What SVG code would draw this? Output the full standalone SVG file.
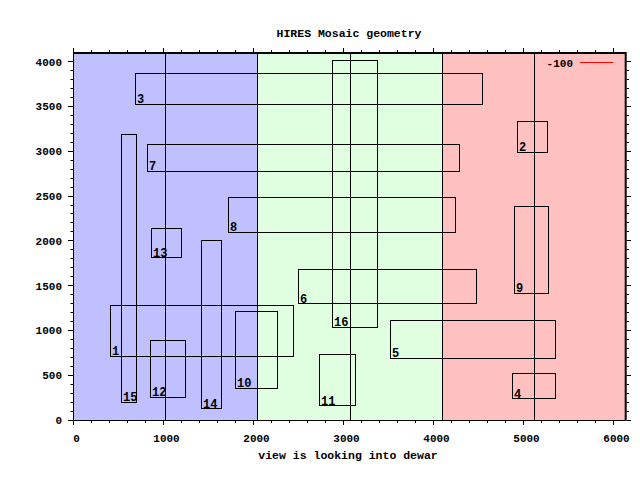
<svg xmlns="http://www.w3.org/2000/svg" width="640" height="480" viewBox="0 0 640 480">
<style>
text{font-family:"Liberation Mono","DejaVu Sans Mono",monospace;font-weight:bold;fill:#000}
.t{font-size:11.5px}
.tk{font-size:11px}
.lb{font-size:12px}
.box{fill:none;stroke:#000;stroke-width:1}
.ln{stroke:#000;stroke-width:1;fill:none}
</style>
<rect width="640" height="480" fill="#fff"/>
<g id="bands">
<rect x="73.5" y="53" width="184" height="367.5" fill="#c0c0ff"/>
<rect x="257.5" y="53" width="185" height="367.5" fill="#e0ffe0"/>
<rect x="442.5" y="53" width="183" height="367.5" fill="#ffc0c0"/>
<path class="ln" d="M257.5 53V420.5M442.5 53V420.5"/>
</g>
<g id="columns">
<path class="ln" d="M165.5 53V420.5M350.5 53V420.5M534.5 53V420.5"/>
</g>
<g id="b1"><rect class="box" x="110.5" y="305.5" width="183" height="51"/><text class="lb" x="112" y="355">1</text></g>
<g id="b2"><rect class="box" x="517.5" y="121.5" width="30" height="31"/><text class="lb" x="519" y="151">2</text></g>
<g id="b3"><rect class="box" x="135.5" y="73.5" width="347" height="31"/><text class="lb" x="137" y="103">3</text></g>
<g id="b4"><rect class="box" x="512.5" y="373.5" width="43" height="25"/><text class="lb" x="514" y="398">4</text></g>
<g id="b5"><rect class="box" x="390.5" y="320.5" width="165" height="38"/><text class="lb" x="392" y="357">5</text></g>
<g id="b6"><rect class="box" x="298.5" y="269.5" width="178" height="34"/><text class="lb" x="300" y="302.5">6</text></g>
<g id="b7"><rect class="box" x="147.5" y="144.5" width="312" height="27"/><text class="lb" x="149" y="170">7</text></g>
<g id="b8"><rect class="box" x="228.5" y="197.5" width="227" height="35"/><text class="lb" x="230" y="231">8</text></g>
<g id="b9"><rect class="box" x="514.5" y="206.5" width="34" height="87"/><text class="lb" x="516" y="292">9</text></g>
<g id="b10"><rect class="box" x="235.5" y="311.5" width="42" height="77"/><text class="lb" x="237" y="387">10</text></g>
<g id="b11"><rect class="box" x="319.5" y="354.5" width="36" height="51"/><text class="lb" x="321" y="404.5">11</text></g>
<g id="b12"><rect class="box" x="150.5" y="340.5" width="35" height="57"/><text class="lb" x="152" y="396">12</text></g>
<g id="b13"><rect class="box" x="151.5" y="228.5" width="30" height="29"/><text class="lb" x="153" y="256.5">13</text></g>
<g id="b14"><rect class="box" x="201.5" y="240.5" width="20" height="168"/><text class="lb" x="203" y="407.5">14</text></g>
<g id="b15"><rect class="box" x="121.5" y="134.5" width="15" height="268"/><text class="lb" x="123" y="401">15</text></g>
<g id="b16"><rect class="box" x="332.5" y="60.5" width="45" height="267"/><text class="lb" x="334" y="326">16</text></g>
<g id="axes">
<path class="ln" d="M73.5 53V420.5H625.7"/>
<path stroke="#000" stroke-width="2" fill="none" d="M73 53H625.7V420.5"/>
<path class="ln" d="M68 420.5H73.5M70.5 411.5H73.5M70.5 402.5H73.5M70.5 393.5H73.5M70.5 384.5H73.5M68 375.5H73.5M70.5 366.5H73.5M70.5 357.5H73.5M70.5 348.5H73.5M70.5 339.5H73.5M68 330.5H73.5M70.5 321.5H73.5M70.5 312.5H73.5M70.5 303.5H73.5M70.5 294.5H73.5M68 285.5H73.5M70.5 276.5H73.5M70.5 267.5H73.5M70.5 258.5H73.5M70.5 249.5H73.5M68 240.5H73.5M70.5 231.5H73.5M70.5 222.5H73.5M70.5 213.5H73.5M70.5 205.5H73.5M68 196.5H73.5M70.5 187.5H73.5M70.5 178.5H73.5M70.5 169.5H73.5M70.5 160.5H73.5M68 151.5H73.5M70.5 142.5H73.5M70.5 133.5H73.5M70.5 124.5H73.5M70.5 115.5H73.5M68 106.5H73.5M70.5 97.5H73.5M70.5 88.5H73.5M70.5 79.5H73.5M70.5 70.5H73.5M68 61.5H73.5"/>
<path class="ln" d="M626.5 420.5H631M626.5 411.5H629M626.5 402.5H629M626.5 393.5H629M626.5 384.5H629M626.5 375.5H631M626.5 366.5H629M626.5 357.5H629M626.5 348.5H629M626.5 339.5H629M626.5 330.5H631M626.5 321.5H629M626.5 312.5H629M626.5 303.5H629M626.5 294.5H629M626.5 285.5H631M626.5 276.5H629M626.5 267.5H629M626.5 258.5H629M626.5 249.5H629M626.5 240.5H631M626.5 231.5H629M626.5 222.5H629M626.5 213.5H629M626.5 205.5H629M626.5 196.5H631M626.5 187.5H629M626.5 178.5H629M626.5 169.5H629M626.5 160.5H629M626.5 151.5H631M626.5 142.5H629M626.5 133.5H629M626.5 124.5H629M626.5 115.5H629M626.5 106.5H631M626.5 97.5H629M626.5 88.5H629M626.5 79.5H629M626.5 70.5H629M626.5 61.5H631"/>
<path class="ln" d="M73.5 420.5V425M91.5 420.5V423M109.5 420.5V423M127.5 420.5V423M145.5 420.5V423M163.5 420.5V425M181.5 420.5V423M199.5 420.5V423M217.5 420.5V423M235.5 420.5V423M253.5 420.5V425M271.5 420.5V423M289.5 420.5V423M307.5 420.5V423M325.5 420.5V423M343.5 420.5V425M361.5 420.5V423M379.5 420.5V423M397.5 420.5V423M415.5 420.5V423M433.5 420.5V425M451.5 420.5V423M469.5 420.5V423M487.5 420.5V423M505.5 420.5V423M523.5 420.5V425M541.5 420.5V423M559.5 420.5V423M577.5 420.5V423M595.5 420.5V423M613.5 420.5V425"/>
<path class="ln" d="M73.5 52V48M91.5 52V50M109.5 52V50M127.5 52V50M145.5 52V50M163.5 52V48M181.5 52V50M199.5 52V50M217.5 52V50M235.5 52V50M253.5 52V48M271.5 52V50M289.5 52V50M307.5 52V50M325.5 52V50M343.5 52V48M361.5 52V50M379.5 52V50M397.5 52V50M415.5 52V50M433.5 52V48M451.5 52V50M469.5 52V50M487.5 52V50M505.5 52V50M523.5 52V48M541.5 52V50M559.5 52V50M577.5 52V50M595.5 52V50M613.5 52V48"/>
</g>
<g id="ylabels" class="tk" text-anchor="end">
<text class="tk" x="62" y="424">0</text>
<text class="tk" x="62" y="379">500</text>
<text class="tk" x="62" y="334">1000</text>
<text class="tk" x="62" y="289.5">1500</text>
<text class="tk" x="62" y="244.5">2000</text>
<text class="tk" x="62" y="200">2500</text>
<text class="tk" x="62" y="155">3000</text>
<text class="tk" x="62" y="110">3500</text>
<text class="tk" x="62" y="65.5">4000</text>
</g>
<g id="xlabels" text-anchor="middle">
<text class="tk" x="76.5" y="442">0</text>
<text class="tk" x="166.5" y="442">1000</text>
<text class="tk" x="256.5" y="442">2000</text>
<text class="tk" x="346.5" y="442">3000</text>
<text class="tk" x="436.5" y="442">4000</text>
<text class="tk" x="526.5" y="442">5000</text>
<text class="tk" x="616.5" y="442">6000</text>
</g>
<text class="t" x="349" y="36.5" text-anchor="middle">HIRES Mosaic geometry</text>
<text class="t" x="348" y="459" text-anchor="middle">view is looking into dewar</text>
<g id="legend">
<text class="tk" x="573" y="66.5" text-anchor="end">-100</text>
<path d="M580 62.5H613" stroke="#ff0000" stroke-width="1"/>
</g>
</svg>
